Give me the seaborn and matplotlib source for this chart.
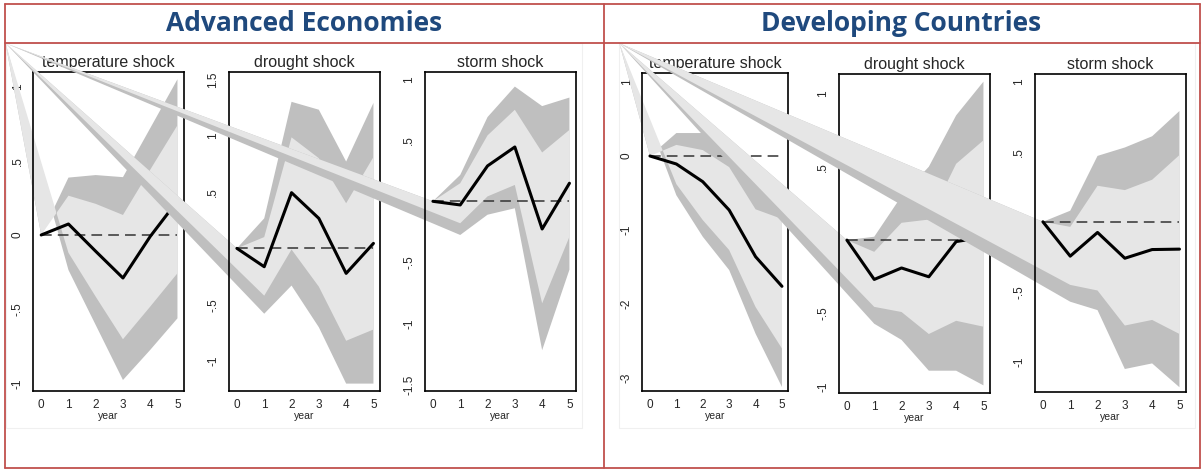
import numpy as np
import pandas as pd
import matplotlib
matplotlib.use("Agg")
import matplotlib.pyplot as plt
from matplotlib.lines import Line2D
from matplotlib.patches import Rectangle
import seaborn as sns

# --- data ---
years = [0, 1, 2, 3, 4, 5]
shock_titles = ["temperature shock", "drought shock", "storm shock"]
group_titles = ["Advanced Economies", "Developing Countries"]

# Advanced economies
adv_temp_irf = [0, 0.074, -0.11, -0.29, -0.01, 0.23]
adv_temp_hi90 = [0, 0.387, 0.404, 0.39, 0.72, 1.05]
adv_temp_hi68 = [0, 0.265, 0.21, 0.135, 0.44, 0.74]
adv_temp_lo68 = [0, -0.12, -0.416, -0.703, -0.483, -0.258]
adv_temp_lo90 = [0, -0.236, -0.607, -0.978, -0.775, -0.562]

adv_drought_irf = [0, -0.163, 0.494, 0.266, -0.222, 0.044]
adv_drought_hi90 = [0, 0.266, 1.30, 1.23, 0.77, 1.29]
adv_drought_hi68 = [0, 0.10, 0.985, 0.80, 0.40, 0.81]
adv_drought_lo68 = [0, -0.42, -0.01, -0.34, -0.82, -0.72]
adv_drought_lo90 = [0, -0.58, -0.33, -0.70, -1.20, -1.20]

adv_storm_irf = [0, -0.03, 0.29, 0.445, -0.227, 0.148]
adv_storm_hi90 = [0, 0.216, 0.69, 0.94, 0.78, 0.85]
adv_storm_hi68 = [0, 0.148, 0.54, 0.75, 0.40, 0.585]
adv_storm_lo68 = [0, -0.18, 0.04, 0.134, -0.836, -0.29]
adv_storm_lo90 = [0, -0.276, -0.11, -0.057, -1.22, -0.56]

# Developing countries
dev_temp_irf = [0, -0.108, -0.347, -0.73, -1.36, -1.76]
dev_temp_hi90 = [0, 0.31, 0.31, 0.0, -0.45, -0.39]
dev_temp_hi68 = [0, 0.15, 0.08, -0.15, -0.72, -0.85]
dev_temp_lo68 = [0, -0.38, -0.865, -1.27, -2.04, -2.6]
dev_temp_lo90 = [0, -0.53, -1.09, -1.54, -2.4, -3.12]

dev_drought_irf = [0, -0.268, -0.19, -0.25, -0.01, 0.02]
dev_drought_hi90 = [0, 0.023, 0.30, 0.50, 0.85, 1.08]
dev_drought_hi68 = [0, -0.08, 0.118, 0.14, 0.52, 0.68]
dev_drought_lo68 = [0, -0.455, -0.49, -0.64, -0.55, -0.59]
dev_drought_lo90 = [0, -0.57, -0.68, -0.89, -0.89, -0.99]

dev_storm_irf = [0, -0.245, -0.076, -0.26, -0.198, -0.195]
dev_storm_hi90 = [0, 0.079, 0.47, 0.53, 0.61, 0.79]
dev_storm_hi68 = [0, -0.036, 0.257, 0.226, 0.30, 0.476]
dev_storm_lo68 = [0, -0.45, -0.49, -0.74, -0.70, -0.80]
dev_storm_lo90 = [0, -0.57, -0.63, -1.05, -1.01, -1.18]

adv_panels = [
    (adv_temp_irf, adv_temp_hi90, adv_temp_hi68, adv_temp_lo68, adv_temp_lo90),
    (adv_drought_irf, adv_drought_hi90, adv_drought_hi68, adv_drought_lo68, adv_drought_lo90),
    (adv_storm_irf, adv_storm_hi90, adv_storm_hi68, adv_storm_lo68, adv_storm_lo90),
]
dev_panels = [
    (dev_temp_irf, dev_temp_hi90, dev_temp_hi68, dev_temp_lo68, dev_temp_lo90),
    (dev_drought_irf, dev_drought_hi90, dev_drought_hi68, dev_drought_lo68, dev_drought_lo90),
    (dev_storm_irf, dev_storm_hi90, dev_storm_hi68, dev_storm_lo68, dev_storm_lo90),
]

# y axis setup per panel: (limits, ticks)
adv_yaxes = [
    ((-1.05, 1.097), [-1, -0.5, 0, 0.5, 1]),
    ((-1.263, 1.562), [-1, -0.5, 0, 0.5, 1, 1.5]),
    ((-1.552, 1.057), [-1.5, -1, -0.5, 0, 0.5, 1]),
]
dev_yaxes = [
    ((-3.17, 1.117), [-3, -2, -1, 0, 1]),
    ((-1.04, 1.13), [-1, -0.5, 0, 0.5, 1]),
    ((-1.214, 1.052), [-1, -0.5, 0, 0.5, 1]),
]

# --- layout (pixels of the 1202x469 reference) ---
W, H = 1202, 469
adv_boxes = [(33.3, 72.3, 184, 390.7), (229, 72.3, 380, 390.7), (425, 72.3, 576, 390.7)]
dev_boxes = [(642.3, 73.3, 788.3, 390.7), (839, 74.3, 990, 392.7), (1035, 74.3, 1186, 392)]
adv_corner = (5.5, 43.2)
dev_corner = (619.3, 43.2)

DARK = "#bfbfbf"
LIGHT = "#e6e6e6"
RED = "#c0504d"
BLUE = "#1f497d"

sns.set_style("white")
plt.rcParams["font.family"] = ["Liberation Sans", "DejaVu Sans"]

fig = plt.figure(figsize=(W / 100, H / 100), dpi=100)


def tick_fmt(v):
    if v == 0:
        return "0"
    s = ("%g" % v)
    return s.replace("0.", ".")


def draw_graph(panels, yaxes, boxes, corner):
    # faint frame of the pasted graph image
    cx, cy = corner
    fig.patches.append(Rectangle((cx / W, 1 - 428 / H), 576 / W, (428 - cy) / H,
                                 transform=fig.transFigure, facecolor="white",
                                 edgecolor="#f0f0f0", lw=0.8, zorder=-5))
    for (irf, hi90, hi68, lo68, lo90), (ylim, yticks), (x0, y0, x1, y1), title in zip(
            panels, yaxes, boxes, shock_titles):
        ax = fig.add_axes([x0 / W, 1 - y1 / H, (x1 - x0) / W, (y1 - y0) / H])
        ax.set_facecolor("none")
        ax.set_xlim(-0.29, 5.24)
        ax.set_ylim(*ylim)

        # corner of the graph image in this panel's data coordinates
        # (the exported bands wrongly close on that corner)
        corner_data = ax.transData.inverted().transform(
            fig.transFigure.transform((cx / W, 1 - cy / H)))

        for hi, lo, col, z in [(hi90, lo90, DARK, 1.0), (hi68, lo68, LIGHT, 1.1)]:
            xs = list(years) + list(years[::-1][:-1]) + [corner_data[0]]
            ys = list(hi) + list(lo[::-1][:-1]) + [corner_data[1]]
            ax.fill(xs, ys, color=col, lw=0, clip_on=False, zorder=z)

        ax.plot([years[0], years[-1]], [0, 0], color="#333333", lw=1.1,
                dashes=(7, 4), zorder=1.5)
        df = pd.DataFrame({"year": years, "irf": irf})
        sns.lineplot(data=df, x="year", y="irf", ax=ax, color="black", lw=2.2,
                     zorder=2)

        ax.set_xticks(years)
        ax.set_xticklabels([str(y) for y in years], fontsize=8.5)
        ax.set_yticks(yticks)
        ax.set_yticklabels([tick_fmt(v) for v in yticks], fontsize=8.5,
                           rotation=90, va="center")
        ax.tick_params(axis="both", direction="out", length=4, width=1,
                       color="black", pad=2)
        ax.tick_params(axis="y", pad=3)
        ax.set_xlabel("year", fontsize=7.5, labelpad=0)
        ax.set_ylabel("")
        ax.set_title(title, fontsize=11.5, pad=4)
        for sp in ax.spines.values():
            sp.set_color("black")
            sp.set_linewidth(1.2)


draw_graph(adv_panels, adv_yaxes, adv_boxes, adv_corner)
draw_graph(dev_panels, dev_yaxes, dev_boxes, dev_corner)

# table borders and headings
def fig_line(xs, ys):
    fig.lines.append(Line2D([x / W for x in xs], [1 - y / H for y in ys],
                            transform=fig.transFigure, color=RED, lw=1.3, zorder=5))

fig_line([5, 1200], [4, 4])
fig_line([5, 1200], [43, 43])
fig_line([5, 1200], [467.5, 467.5])
fig_line([5, 5], [4, 467.5])
fig_line([603.5, 603.5], [4, 467.5])
fig_line([1200, 1200], [4, 467.5])

fig.text(304 / W, 1 - 23.5 / H, group_titles[0], ha="center", va="center",
         fontsize=19, fontweight="bold", color=BLUE, family=["Open Sans", "DejaVu Sans"])
fig.text(901 / W, 1 - 23.5 / H, group_titles[1], ha="center", va="center",
         fontsize=19, fontweight="bold", color=BLUE, family=["Open Sans", "DejaVu Sans"])

fig.savefig("out.png", dpi=100)
